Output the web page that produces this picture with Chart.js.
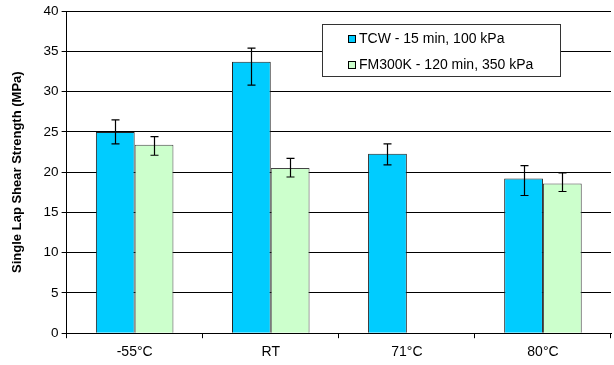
<!DOCTYPE html>
<html><head><meta charset="utf-8">
<script src="https://cdn.jsdelivr.net/npm/chart.js@4/dist/chart.umd.min.js"></script>
<style>html,body{margin:0;padding:0;background:#fff}#wrap{width:614px;height:365px}</style>
</head><body><div id="wrap"><canvas id="c" width="614" height="365"></canvas></div>
<script>
const categories = ["-55°C", "RT", "71°C", "80°C"];
const tcwValues = [25.0, 33.7, 22.3, 19.2];
const tcwErrHigh = [26.5, 35.4, 23.5, 20.8];
const tcwErrLow = [23.5, 30.8, 20.9, 17.1];
const fmValues = [23.4, 20.5, null, 18.6];
const fmErrHigh = [24.4, 21.7, null, 19.9];
const fmErrLow = [22.1, 19.4, null, 17.6];
const yTicks = [0, 5, 10, 15, 20, 25, 30, 35, 40];
const seriesLabels = ["TCW - 15 min, 100 kPa", "FM300K - 120 min, 350 kPa"];

const FONT = "'Liberation Sans', Arial, sans-serif";

const errorBars = {
  id: 'errorBars',
  afterDatasetsDraw(chart) {
    const ctx = chart.ctx, y = chart.scales.y;
    const sets = [[tcwErrHigh, tcwErrLow], [fmErrHigh, fmErrLow]];
    ctx.save();
    ctx.strokeStyle = '#000'; ctx.lineWidth = 1.2;
    sets.forEach((s, di) => {
      const meta = chart.getDatasetMeta(di);
      meta.data.forEach((bar, i) => {
        if (s[0][i] == null) return;
        const x = Math.round(bar.x) + 0.5;
        const yh = y.getPixelForValue(s[0][i]), yl = y.getPixelForValue(s[1][i]);
        ctx.beginPath();
        ctx.moveTo(x, yh); ctx.lineTo(x, yl);
        ctx.moveTo(x - 4, yh); ctx.lineTo(x + 4, yh);
        ctx.moveTo(x - 4, yl); ctx.lineTo(x + 4, yl);
        ctx.stroke();
      });
    });
    ctx.restore();
  }
};

const boxLegend = {
  id: 'boxLegend',
  afterDraw(chart) {
    const ctx = chart.ctx;
    const bx = 322.5, by = 24.5, bw = 238, bh = 52;
    ctx.save();
    ctx.fillStyle = '#fff'; ctx.fillRect(bx, by, bw, bh);
    ctx.strokeStyle = '#333'; ctx.lineWidth = 1; ctx.strokeRect(bx, by, bw, bh);
    ctx.font = '14px ' + FONT; ctx.textBaseline = 'middle'; ctx.fillStyle = '#000';
    const rows = [39, 65];
    chart.data.datasets.forEach((ds, i) => {
      ctx.fillStyle = ds.backgroundColor;
      ctx.fillRect(348.5, rows[i] - 3.5, 7, 7);
      ctx.strokeStyle = '#000'; ctx.strokeRect(348.5, rows[i] - 3.5, 7, 7);
      ctx.fillStyle = '#000';
      ctx.fillText(ds.label, 359, rows[i] + 0.5);
    });
    ctx.restore();
  }
};

new Chart(document.getElementById('c'), {
  type: 'bar',
  data: {
    labels: categories,
    datasets: [
      { label: seriesLabels[0], data: tcwValues, backgroundColor: '#00CCFF', borderColor: '#222', borderWidth: 1 },
      { label: seriesLabels[1], data: fmValues, backgroundColor: '#CCFFCC', borderColor: '#444', borderWidth: 1 }
    ]
  },
  options: {
    responsive: false, animation: false, devicePixelRatio: 1,
    layout: { padding: { top: 10, right: 3, left: 9, bottom: -2 } },
    datasets: { bar: { categoryPercentage: 0.57, barPercentage: 1.0 } },
    plugins: { legend: { display: false }, tooltip: { enabled: false } },
    scales: {
      x: {
        offset: true,
        grid: { display: true, offset: true, drawOnChartArea: false, drawTicks: true, tickLength: 5, color: '#000' },
        border: { color: '#000', width: 1 },
        ticks: { color: '#000', font: { family: FONT, size: 14 }, padding: 6 }
      },
      y: {
        min: 0, max: 40,
        afterBuildTicks(scale) { scale.ticks = yTicks.map(v => ({ value: v })); },
        grid: { color: '#000', lineWidth: 1, tickLength: 5 },
        border: { color: '#000', width: 1 },
        ticks: { color: '#000', font: { family: FONT, size: 13.5 }, padding: 3 },
        title: { display: true, text: 'Single Lap Shear Strength (MPa)', color: '#000', font: { family: FONT, size: 13, weight: 'bold' }, padding: { top: 1, bottom: 15 } }
      }
    }
  },
  plugins: [errorBars, boxLegend]
});
</script></body></html>
